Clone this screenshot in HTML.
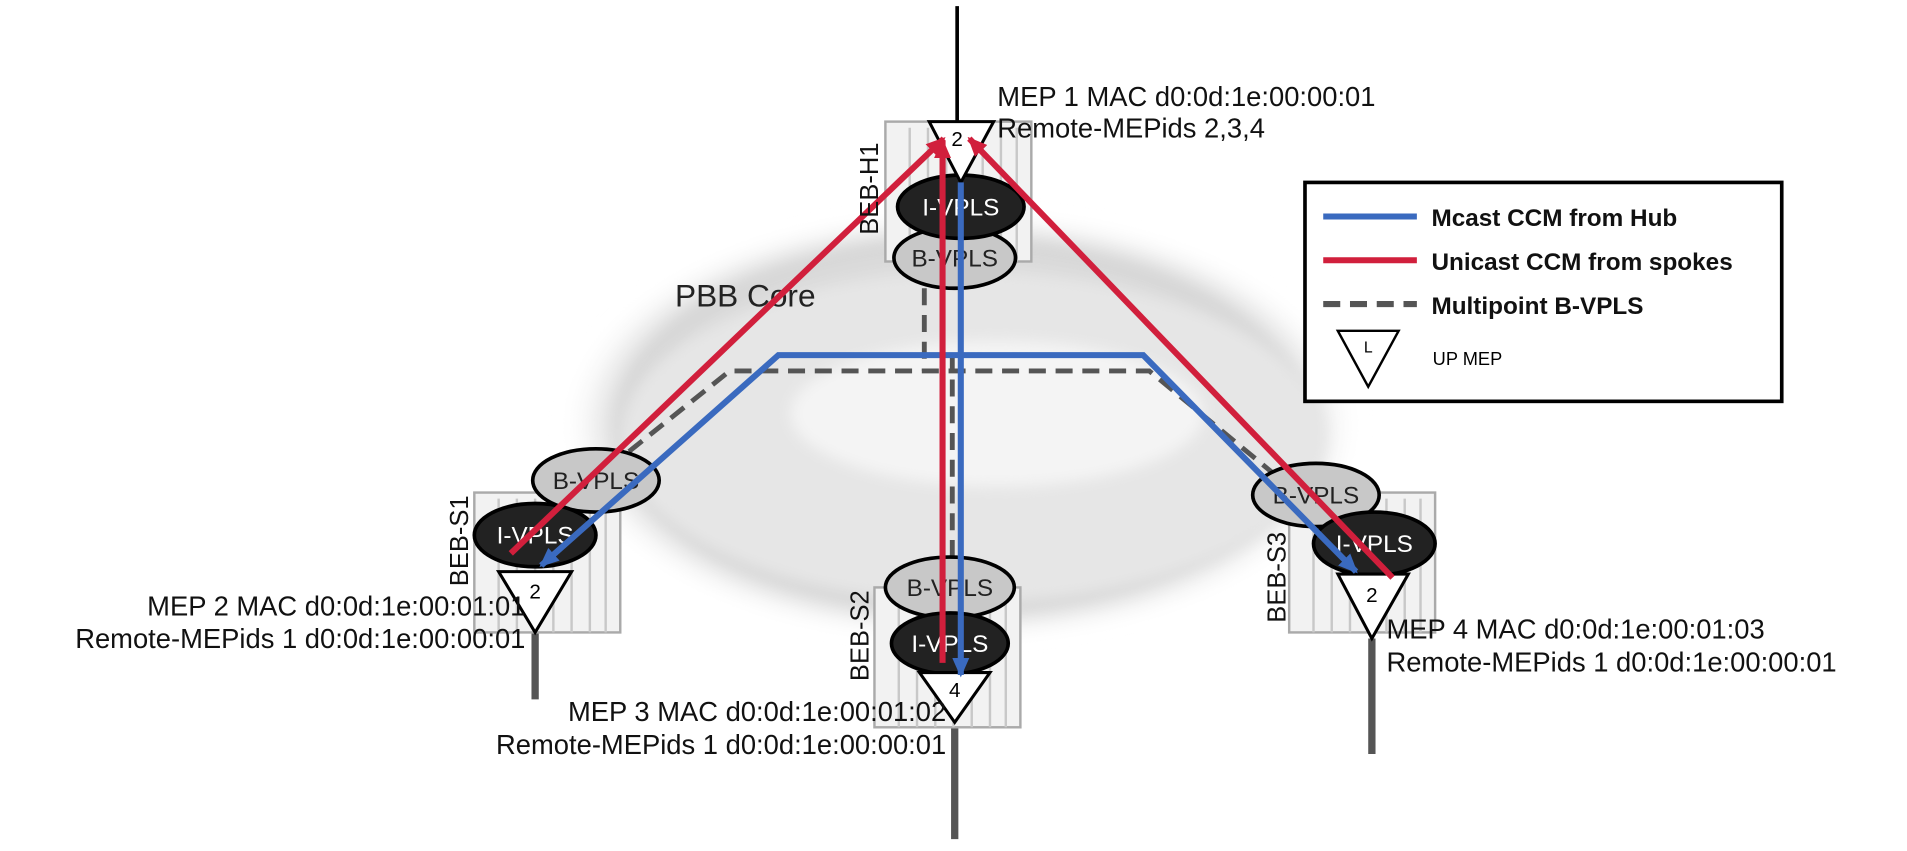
<!DOCTYPE html>
<html><head><meta charset="utf-8"><style>body{margin:0;background:#fff}svg{display:block}text{font-family:"Liberation Sans",sans-serif}</style></head><body>
<svg width="1907" height="851" viewBox="0 0 1907 851" xmlns="http://www.w3.org/2000/svg">
<defs>
<radialGradient id="cg" cx="50%" cy="50%" r="50%"><stop offset="0" stop-color="#fff"/><stop offset="0.55" stop-color="#e6e6e6"/><stop offset="0.85" stop-color="#d6d6d6"/><stop offset="1" stop-color="#fff" stop-opacity="0"/></radialGradient>
<filter id="bl"><feGaussianBlur stdDeviation="6"/></filter>
<marker id="ar" markerWidth="16" markerHeight="14" refX="14" refY="7" orient="auto" markerUnits="userSpaceOnUse"><path d="M0,0 L16,7 L0,14 z" fill="#d11f3c"/></marker>
<marker id="ab" markerWidth="16" markerHeight="14" refX="14" refY="7" orient="auto-start-reverse" markerUnits="userSpaceOnUse"><path d="M0,0 L16,7 L0,14 z" fill="#3a6abf"/></marker>
<g id="ch"><rect x="0" y="0" width="120" height="115" fill="#f2f2f2" stroke="#aaa" stroke-width="2"/><g stroke="#c8c8c8" stroke-width="2"><line x1="20" y1="5" x2="20" y2="115"/><line x1="35" y1="5" x2="35" y2="115"/><line x1="50" y1="5" x2="50" y2="115"/><line x1="65" y1="5" x2="65" y2="115"/><line x1="80" y1="5" x2="80" y2="115"/><line x1="95" y1="5" x2="95" y2="115"/><line x1="108" y1="5" x2="108" y2="115"/></g></g>
</defs>
<g transform="scale(1.2162)">
<ellipse cx="790" cy="350" rx="330" ry="180" fill="url(#cg)" filter="url(#bl)"/>
<ellipse cx="800" cy="360" rx="290" ry="135" fill="#e6e6e6" filter="url(#bl)"/>
<ellipse cx="820" cy="340" rx="170" ry="60" fill="#f4f4f4" filter="url(#bl)"/>
<text x="555" y="252" font-size="26" fill="#222">PBB Core</text>
<line x1="787" y1="5" x2="787" y2="100" stroke="#000" stroke-width="3"/>
<line x1="440" y1="520" x2="440" y2="575" stroke="#555" stroke-width="6"/>
<line x1="785" y1="594" x2="785" y2="690" stroke="#555" stroke-width="6"/>
<line x1="1128" y1="525" x2="1128" y2="620" stroke="#555" stroke-width="6"/>
<use href="#ch" x="728" y="100"/>
<use href="#ch" x="390" y="405"/>
<use href="#ch" x="719" y="483"/>
<use href="#ch" x="1060" y="405"/>
<g stroke="#555" stroke-width="4" stroke-dasharray="14,8" fill="none">
<path d="M760 215 L760 305"/><path d="M500 385 L600 305 L945 305 L1060 400"/><path d="M783 290 L783 470"/>
</g>
<g stroke="#000" stroke-width="3">
<ellipse cx="785" cy="212" rx="50" ry="25" fill="#c8c8c8"/>
<ellipse cx="790" cy="170" rx="52" ry="26" fill="#222"/>
<ellipse cx="490" cy="395" rx="52" ry="26" fill="#c8c8c8"/>
<ellipse cx="440" cy="440" rx="50" ry="26" fill="#222"/>
<ellipse cx="781" cy="483" rx="53" ry="25" fill="#c8c8c8"/>
<ellipse cx="781" cy="529" rx="48" ry="25" fill="#222"/>
<ellipse cx="1082" cy="407" rx="52" ry="26" fill="#c8c8c8"/>
<ellipse cx="1130" cy="447" rx="50" ry="26" fill="#222"/>
</g>
<g font-size="20" text-anchor="middle">
<text x="790" y="177" fill="#fff">I-VPLS</text><text x="785" y="219" fill="#222">B-VPLS</text>
<text x="490" y="402" fill="#222">B-VPLS</text><text x="440" y="447" fill="#fff">I-VPLS</text>
<text x="781" y="490" fill="#222">B-VPLS</text><text x="781" y="536" fill="#fff">I-VPLS</text>
<text x="1082" y="414" fill="#222">B-VPLS</text><text x="1130" y="454" fill="#fff">I-VPLS</text>
</g>
<g fill="#fff" stroke="#000" stroke-width="2.5">
<path d="M764 100 L817 100 L790 150 z"/>
<path d="M410 470 L470 470 L440 520 z"/>
<path d="M756 553 L814 553 L785 594 z"/>
<path d="M1100 472 L1158 472 L1128 525 z"/>
</g>
<g font-size="17" text-anchor="middle"><text x="787" y="120">2</text><text x="440" y="492">2</text><text x="785" y="573">4</text><text x="1128" y="495">2</text></g>
<g stroke="#3a6abf" stroke-width="5" fill="none">
<path d="M445 465 L640 292 L940 292 L1115 470" marker-start="url(#ab)" marker-end="url(#ab)"/>
<line x1="790" y1="150" x2="790" y2="555" marker-end="url(#ab)"/>
</g>
<g stroke="#d11f3c" stroke-width="5" fill="none">
<line x1="420" y1="455" x2="776" y2="114" marker-end="url(#ar)"/>
<line x1="775" y1="545" x2="775" y2="116" marker-end="url(#ar)"/>
<line x1="1145" y1="475" x2="797" y2="114" marker-end="url(#ar)"/>
</g>
<g font-size="21" fill="#111">
<text transform="translate(722,193) rotate(-90)">BEB-H1</text>
<text transform="translate(385,482) rotate(-90)">BEB-S1</text>
<text transform="translate(714,560) rotate(-90)">BEB-S2</text>
<text transform="translate(1057,512) rotate(-90)">BEB-S3</text>
</g>
<g font-size="22.5" fill="#111">
<text x="820" y="87">MEP 1 MAC d0:0d:1e:00:00:01</text>
<text x="820" y="113">Remote-MEPids 2,3,4</text>
<text x="432" y="506" text-anchor="end">MEP 2 MAC d0:0d:1e:00:01:01</text>
<text x="432" y="533" text-anchor="end">Remote-MEPids 1 d0:0d:1e:00:00:01</text>
<text x="778" y="593" text-anchor="end">MEP 3 MAC d0:0d:1e:00:01:02</text>
<text x="778" y="620" text-anchor="end">Remote-MEPids 1 d0:0d:1e:00:00:01</text>
<text x="1140" y="525">MEP 4 MAC d0:0d:1e:00:01:03</text>
<text x="1140" y="552">Remote-MEPids 1 d0:0d:1e:00:00:01</text>
</g>
<rect x="1073" y="150" width="392" height="180" fill="#fff" stroke="#000" stroke-width="3"/>
<line x1="1088" y1="178" x2="1165" y2="178" stroke="#3a6abf" stroke-width="5"/>
<line x1="1088" y1="214" x2="1165" y2="214" stroke="#d11f3c" stroke-width="5"/>
<line x1="1088" y1="250" x2="1165" y2="250" stroke="#555" stroke-width="5" stroke-dasharray="14,8"/>
<g font-size="20" font-weight="bold" fill="#111">
<text x="1177" y="186">Mcast CCM from Hub</text>
<text x="1177" y="222">Unicast CCM from spokes</text>
<text x="1177" y="258">Multipoint B-VPLS</text>
</g>
<path d="M1100 272 L1150 272 L1125 318 z" fill="#fff" stroke="#000" stroke-width="2"/>
<text x="1125" y="290" font-size="13" text-anchor="middle">L</text>
<text x="1178" y="300" font-size="15">UP MEP</text>
</g>
</svg>
</body></html>
